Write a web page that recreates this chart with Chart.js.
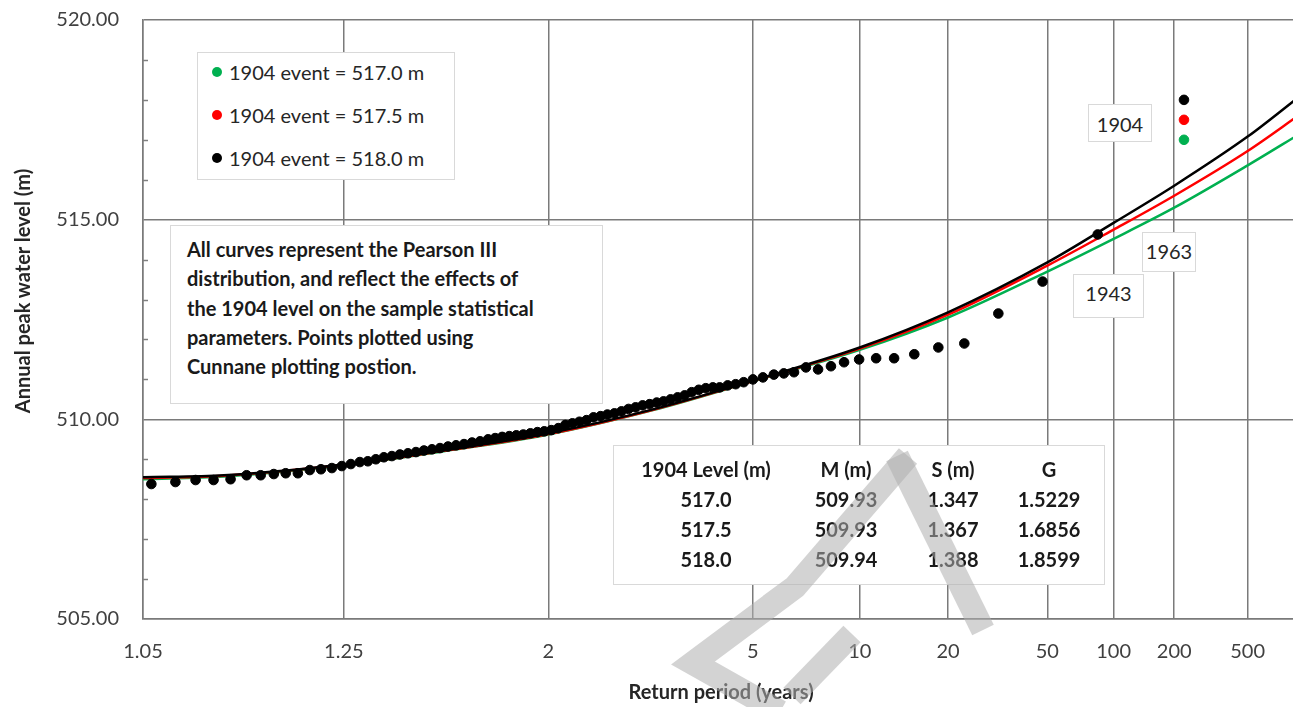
<!DOCTYPE html>
<html>
<head>
<meta charset="utf-8">
<title>Pearson III - 1904 level</title>
<script src="https://cdn.jsdelivr.net/npm/chart.js@4.4.1/dist/chart.umd.min.js"></script>
<style>
  html, body { margin: 0; padding: 0; background: #fff; overflow: hidden; }
  #wrap { position: relative; width: 1305px; height: 707px; font-family: Lato, Carlito, Calibri, sans-serif; color: #262626; }
  #chart { position: absolute; left: 0; top: 0; }
  .box { position: absolute; background: #fff; border: 1px solid #d9d9d9; box-sizing: border-box; }
  #legend .item { position: absolute; left: 0; height: 24px; line-height: 24px; font-size: 20px; white-space: nowrap; }
  #legend .dot { position: absolute; left: 14px; top: 7px; width: 10px; height: 10px; border-radius: 50%; }
  #legend .txt { position: absolute; left: 31px; top: 0; }
  #notes { font-weight: bold; font-size: 20px; line-height: 29.3px; padding: 9px 0 0 16px; white-space: nowrap; color: #1a1a1a; }
  #stats .cell { position: absolute; width: 170px; margin-left: -85px; text-align: center; font-weight: bold; font-size: 20px; height: 30px; line-height: 30px; color: #1a1a1a; }
  .tag { font-size: 20px; text-align: center; }
  #ytitle { position: absolute; left: -178px; top: 279px; width: 400px; height: 24px; line-height: 24px; text-align: center; font-weight: bold; font-size: 20px; transform: rotate(-90deg); color: #262626; }
  #mark { position: absolute; left: 0; top: 0; pointer-events: none; }
</style>
</head>
<body>
<div id="wrap">
  <canvas id="chart" width="1305" height="707"></canvas>
  <div id="ytitle">Annual peak water level (m)</div>
  <div id="legend" class="box" style="left:197px;top:52px;width:258px;height:128px;"></div>
  <div id="notes" class="box" style="left:170px;top:225px;width:433px;height:179px;">
    All curves represent the Pearson III<br>
    distribution, and reflect the effects of<br>
    the 1904 level on the sample statistical<br>
    parameters. Points plotted using<br>
    Cunnane plotting postion.
  </div>
  <div id="stats" class="box" style="left:613px;top:445px;width:492px;height:140px;"></div>
  <div class="box tag" style="left:1088px;top:104px;width:64px;height:38px;line-height:38px;">1904</div>
  <div class="box tag" style="left:1142px;top:232px;width:54px;height:40px;line-height:36px;">1963</div>
  <div class="box tag" style="left:1073px;top:274px;width:71px;height:44px;line-height:36px;">1943</div>
  <svg id="mark" width="1305" height="707">
    <g fill="none" stroke="rgba(175,175,175,0.55)" stroke-width="24">
      <polyline points="908,456 795,587 693,663 780,712"/>
      <polyline points="897,456 983,630"/>
      <polyline points="852,634 792,696"/>
    </g>
  </svg>
</div>

<script>
// ---------------------------------- { Data }
// Axis tick labels (return period, years) and value axis range
const tickReturnPeriods = [1.05, 1.25, 2, 5, 10, 20, 50, 100, 200, 500];
const xMaxReturnPeriod = 1000;
const yMin = 505;
const yMax = 520;

// Plotted annual peaks: position on the probability axis (standard normal variate) and level (m)
const pointVariate = [
  -1.634, -1.535, -1.452, -1.378, -1.308, -1.242, -1.184, -1.130, -1.081, -1.031,
  -0.982, -0.936, -0.891, -0.850, -0.813, -0.776, -0.743, -0.710, -0.677, -0.644,
  -0.611, -0.578, -0.545, -0.512, -0.479, -0.446, -0.413, -0.380, -0.347, -0.314,
  -0.281, -0.248, -0.219, -0.190, -0.161, -0.132, -0.103, -0.074, -0.045, -0.017,
  0.012, 0.041, 0.070, 0.099, 0.128, 0.157, 0.186, 0.215, 0.243, 0.272,
  0.301, 0.330, 0.359, 0.388, 0.417, 0.446, 0.474, 0.503, 0.532, 0.561,
  0.590, 0.619, 0.648, 0.677, 0.705, 0.738, 0.771, 0.804, 0.842, 0.883,
  0.928, 0.969, 1.011, 1.060, 1.110, 1.163, 1.217, 1.279, 1.349, 1.423,
  1.506, 1.605, 1.712, 1.852, 2.034, 2.261
];
const pointLevel = [
  508.38, 508.43, 508.48, 508.48, 508.50, 508.60, 508.60, 508.63, 508.65, 508.65,
  508.73, 508.75, 508.78, 508.83, 508.88, 508.93, 508.95, 509.00, 509.05, 509.08,
  509.12, 509.15, 509.18, 509.22, 509.25, 509.28, 509.32, 509.35, 509.38, 509.42,
  509.45, 509.50, 509.53, 509.56, 509.58, 509.60, 509.62, 509.65, 509.68, 509.70,
  509.73, 509.78, 509.86, 509.90, 509.94, 509.98, 510.05, 510.08, 510.12, 510.15,
  510.20, 510.26, 510.30, 510.35, 510.38, 510.42, 510.45, 510.50, 510.55, 510.60,
  510.68, 510.74, 510.78, 510.80, 510.80, 510.85, 510.88, 510.93, 511.00, 511.05,
  511.12, 511.15, 511.18, 511.30, 511.25, 511.33, 511.43, 511.50, 511.53, 511.53,
  511.63, 511.80, 511.90, 512.65, 513.45, 514.63
];

// The 1904 event, plotted three ways
const event1904Variate = 2.616;
const event1904Levels = [517.0, 517.5, 518.0];
const event1904Labels = ["1904 event = 517.0 m", "1904 event = 517.5 m", "1904 event = 518.0 m"];
const seriesColors = ["#00b050", "#ff0000", "#000000"];

// Pearson III curves at these return periods
const curveReturnPeriods = [1.05, 1.1, 1.25, 1.5, 2, 3, 5, 10, 20, 50, 100, 200, 500, 1000];
const curve517 = [508.50, 508.57, 508.85, 509.20, 509.62, 510.23, 510.95, 511.74, 512.55, 513.70, 514.52, 515.30, 516.36, 517.14];
const curve5175 = [508.53, 508.59, 508.86, 509.21, 509.63, 510.24, 510.96, 511.77, 512.62, 513.85, 514.75, 515.60, 516.72, 517.62];
const curve518 = [508.55, 508.60, 508.87, 509.22, 509.65, 510.25, 510.97, 511.80, 512.68, 513.93, 514.92, 515.85, 517.08, 518.08];

// Statistics table
const statsHeader = ["1904 Level (m)", "M (m)", "S (m)", "G"];
const statsRows = [
  ["517.0", "509.93", "1.347", "1.5229"],
  ["517.5", "509.93", "1.367", "1.6856"],
  ["518.0", "509.94", "1.388", "1.8599"]
];

// ---------------------------------- { Probability axis }
// inverse standard normal (Acklam)
function normInv(p) {
  const a = [-3.969683028665376e+01, 2.209460984245205e+02, -2.759285104469687e+02, 1.383577518672690e+02, -3.066479806614716e+01, 2.506628277459239e+00];
  const b = [-5.447609879822406e+01, 1.615858368580409e+02, -1.556989798598866e+02, 6.680131188771972e+01, -1.328068155288572e+01];
  const c = [-7.784894002430293e-03, -3.223964580411365e-01, -2.400758277161838e+00, -2.549732539343734e+00, 4.374664141464968e+00, 2.938163982698783e+00];
  const d = [7.784695709041462e-03, 3.224671290700398e-01, 2.445134137142996e+00, 3.754408661907416e+00];
  const pLow = 0.02425;
  let q, r;
  if (p < pLow) {
    q = Math.sqrt(-2 * Math.log(p));
    return (((((c[0] * q + c[1]) * q + c[2]) * q + c[3]) * q + c[4]) * q + c[5]) /
      ((((d[0] * q + d[1]) * q + d[2]) * q + d[3]) * q + 1);
  }
  if (p <= 1 - pLow) {
    q = p - 0.5;
    r = q * q;
    return (((((a[0] * r + a[1]) * r + a[2]) * r + a[3]) * r + a[4]) * r + a[5]) * q /
      (((((b[0] * r + b[1]) * r + b[2]) * r + b[3]) * r + b[4]) * r + 1);
  }
  q = Math.sqrt(-2 * Math.log(1 - p));
  return -(((((c[0] * q + c[1]) * q + c[2]) * q + c[3]) * q + c[4]) * q + c[5]) /
    ((((d[0] * q + d[1]) * q + d[2]) * q + d[3]) * q + 1);
}
// return period -> axis position
const toZ = (T) => normInv(1 - 1 / T);

const tickZ = tickReturnPeriods.map(toZ);

const toXY = (xs, ys) => xs.map((x, i) => ({ x: x, y: ys[i] }));
const curveXY = (levels) => curveReturnPeriods.map((T, i) => ({ x: toZ(T), y: levels[i] }));

// ---------------------------------- { Datasets }
const pointDatasets = [
  {
    label: "Annual peaks",
    data: toXY(pointVariate, pointLevel),
    backgroundColor: "#000",
    borderColor: "#000",
    pointRadius: 4.8,
    pointBorderWidth: 1
  }
];
// black first so it is drawn on top
const eventDatasets = [2, 1, 0].map((k) => ({
  label: event1904Labels[k],
  data: [{ x: event1904Variate, y: event1904Levels[k] }],
  backgroundColor: seriesColors[k],
  borderColor: seriesColors[k],
  pointRadius: 4.8,
  pointBorderWidth: 1,
  inLegend: true,
  legendIndex: k
}));
const curveDatasets = [curve518, curve5175, curve517].map((levels, i) => ({
  label: "Pearson III " + event1904Levels[2 - i].toFixed(1),
  data: curveXY(levels),
  showLine: true,
  borderColor: seriesColors[2 - i],
  borderWidth: 2.5,
  pointRadius: 0,
  cubicInterpolationMode: "monotone"
}));

// ---------------------------------- { Minor ticks }
const minorTicks = {
  id: "minorTicks",
  afterDraw(chart) {
    const { ctx, chartArea, scales } = chart;
    ctx.save();
    ctx.strokeStyle = "#808080";
    ctx.lineWidth = 1.5;
    for (let v = yMin + 1; v < yMax; v++) {
      if (v % 5 === 0) continue;
      const py = Math.round(scales.y.getPixelForValue(v)) + 0.5;
      ctx.beginPath();
      ctx.moveTo(chartArea.left, py);
      ctx.lineTo(chartArea.left + 5, py);
      ctx.stroke();
    }
    ctx.restore();
  }
};

Chart.defaults.font.family = "Lato, Carlito, Calibri, sans-serif";
Chart.defaults.color = "#404040";

const chart = new Chart(document.getElementById("chart"), {
  type: "scatter",
  data: { datasets: [...pointDatasets, ...eventDatasets, ...curveDatasets] },
  options: {
    responsive: false,
    animation: false,
    devicePixelRatio: 1,
    layout: { padding: { top: 20, right: 0, left: 0, bottom: 0 } },
    plugins: {
      legend: { display: false },
      tooltip: { enabled: false }
    },
    scales: {
      x: {
        type: "linear",
        min: toZ(tickReturnPeriods[0]),
        max: toZ(xMaxReturnPeriod),
        afterBuildTicks: (axis) => {
          axis.ticks = tickZ.map((v) => ({ value: v }));
        },
        afterFit: (axis) => {
          axis.height = 88;
          axis.paddingLeft = 0;
          axis.paddingRight = 0;
        },
        ticks: {
          autoSkip: false,
          maxRotation: 0,
          padding: 21,
          font: { size: 20 },
          callback: (value, index) => String(tickReturnPeriods[index])
        },
        grid: { color: "#7a7a7a", lineWidth: 1.5, drawTicks: false },
        border: { color: "#7a7a7a", width: 1.5 },
        title: {
          display: true,
          text: "Return period (years)",
          font: { size: 20, weight: "bold" },
          color: "#262626",
          padding: { top: 0, bottom: 2 }
        }
      },
      y: {
        min: yMin,
        max: yMax,
        afterFit: (axis) => {
          axis.width = 143;
          axis.paddingTop = 0;
          axis.paddingBottom = 0;
        },
        ticks: {
          stepSize: 1,
          padding: 24,
          font: { size: 20 },
          callback: (value) => (value % 5 === 0 ? value.toFixed(2) : "")
        },
        grid: {
          drawTicks: false,
          lineWidth: 1.5,
          color: (ctx) => (ctx.tick && ctx.tick.value % 5 === 0 ? "#7a7a7a" : "rgba(0,0,0,0)")
        },
        border: { color: "#7a7a7a", width: 1.5 }
      }
    }
  },
  plugins: [minorTicks]
});

// ---------------------------------- { Legend }
const legendBox = document.getElementById("legend");
chart.data.datasets
  .filter((ds) => ds.inLegend)
  .sort((p, q) => p.legendIndex - q.legendIndex)
  .forEach((ds, i) => {
    legendBox.innerHTML += `
      <div class="item" style="top:${7 + i * 43}px;">
        <span class="dot" style="background:${ds.backgroundColor};"></span>
        <span class="txt">${ds.label}</span>
      </div>`;
  });

// ---------------------------------- { Stats table }
const statsBox = document.getElementById("stats");
const colCenters = [92, 232, 339, 435];
[statsHeader, ...statsRows].forEach((row, r) => {
  row.forEach((txt, c) => {
    statsBox.innerHTML += `<span class="cell" style="left:${colCenters[c]}px;top:${8 + r * 30}px;">${txt}</span>`;
  });
});
</script>
</body>
</html>
